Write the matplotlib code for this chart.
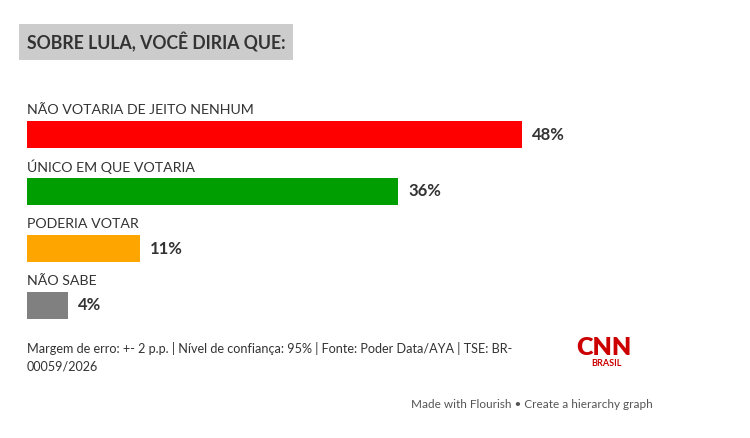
import matplotlib.pyplot as plt

plt.rcParams['font.family'] = ['Lato', 'DejaVu Sans']

categories = ['NÃO VOTARIA DE JEITO NENHUM', 'ÚNICO EM QUE VOTARIA', 'PODERIA VOTAR', 'NÃO SABE']
values = [48, 36, 11, 4]
colors = ['#ff0000', '#009e00', '#ffa500', '#808080']
title = 'SOBRE LULA, VOCÊ DIRIA QUE:'
note = 'Margem de erro: +- 2 p.p. | Nível de confiança: 95% | Fonte: Poder Data/AYA | TSE: BR-\n00059/2026'
credit = 'Made with Flourish • Create a hierarchy graph'

W, H = 750, 438
fig = plt.figure(figsize=(W / 100, H / 100), dpi=100)
fig.patch.set_facecolor('white')

# axes spans x 27..522 px for 0..48, rows 57px apart
ax = fig.add_axes([27 / W, 1 - 334 / H, 495 / W, 228 / H])
ax.set_xlim(0, 48)
ax.set_ylim(3.5, -0.5)
ax.axis('off')

ys = list(range(len(values)))
ax.barh(ys, values, height=27 / 57, color=colors, left=0)
for y, v, c in zip(ys, values, categories):
    ax.text(0, y - 0.43, c, ha='left', va='center', fontsize=10.2, color='#333333')
    ax.annotate(f'{v}%', (v, y), xytext=(7, 0), textcoords='offset points',
                ha='left', va='center', fontsize=12, fontweight='bold', color='#333333')

fig.text(27 / W, 1 - 42 / H, title, ha='left', va='center', fontsize=12.7, fontweight='bold',
         color='#333333',
         bbox=dict(boxstyle='square,pad=0.45', fc='#cccccc', ec='none'))

fig.text(27 / W, 1 - 357 / H, note, ha='left', va='center', fontsize=9.1, color='#333333',
         linespacing=1.55)

fig.text(604 / W, 1 - 348 / H, 'CNN', ha='center', va='center', fontsize=18, fontweight='heavy',
         color='#cc0000')
fig.text(606 / W, 1 - 364 / H, 'BRASIL', ha='center', va='center', fontsize=6.5, fontweight='bold',
         color='#cc0000')

fig.text(653 / W, 1 - 405 / H, credit, ha='right', va='center', fontsize=8.45, color='#555555')

fig.savefig('out.png', dpi=100)
